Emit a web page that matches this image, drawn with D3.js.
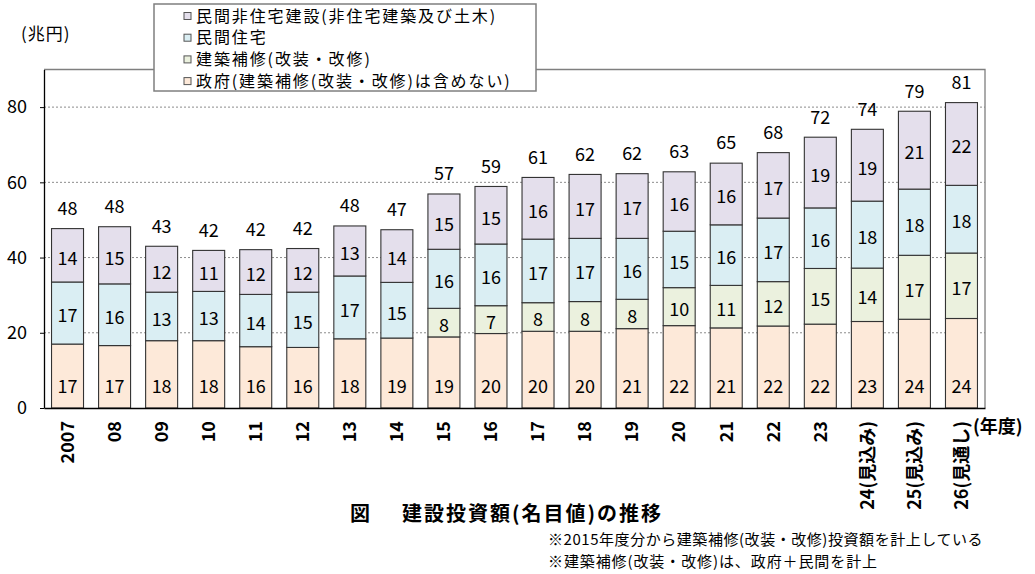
<!DOCTYPE html>
<html><head><meta charset="utf-8">
<script src="https://cdn.jsdelivr.net/npm/d3@7"></script>
<style>
body{margin:0;background:#fff}
text{font-family:"Noto Sans CJK JP","Noto Sans",sans-serif;fill:#000}
</style>
</head><body>
<svg id="c" width="1035" height="574"></svg>
<script>
// ---- data (兆円) ----
const years = ["2007","08","09","10","11","12","13","14","15","16","17","18","19","20","21","22","23","24(見込み)","25(見込み)","26(見通し)"];
const gov     = [17.0,16.6,17.9,17.9,16.3,16.1,18.4,18.6,18.9,19.8,20.4,20.4,21.1,21.9,21.3,21.8,22.3,23.0,23.6,23.8];
const repair  = [null,null,null,null,null,null,null,null,7.6,7.4,7.6,7.9,7.8,10.1,11.3,11.8,14.8,14.2,17.0,17.4];
const housing = [16.5,16.4,12.9,13.1,13.9,14.7,16.7,14.8,15.7,16.4,16.9,16.8,16.2,15.0,16.1,16.9,16.1,17.8,17.6,18.0];
const nonres  = [14.2,15.2,12.2,10.9,11.9,11.6,13.3,14.0,14.7,15.3,16.4,17.0,17.2,15.8,16.4,17.4,18.8,19.1,20.7,22.0];
const yTicks  = [0,20,40,60,80];
const seriesKeys   = ["gov","repair","housing","nonres"];
const seriesNames  = {nonres:"民間非住宅建設(非住宅建築及び土木)",housing:"民間住宅",repair:"建築補修(改装・改修)",gov:"政府(建築補修(改装・改修)は含めない)"};
const seriesColors = {gov:"#FDE9D9",repair:"#EBF1DE",housing:"#DAEEF3",nonres:"#E4DFEC"};
const legendOrder  = ["nonres","housing","repair","gov"];
const titleMark = "図";
const titleText = "建設投資額(名目値)の推移";
const unitLabel = "(兆円)";
const xUnitLabel = "(年度)";
const notes = ["※2015年度分から建築補修(改装・改修)投資額を計上している","※建築補修(改装・改修)は、政府＋民間を計上"];

const rows = years.map((yr,i)=>({year:yr,gov:gov[i],repair:repair[i]||0,housing:housing[i],nonres:nonres[i]}));

const svg = d3.select("#c");
const L=44,R=985,T=69.5,B=408;
const x = d3.scaleBand().domain(years).range([L,R]).paddingInner(0.32).paddingOuter(0.16);
const y = d3.scaleLinear().domain([0,90]).range([B,T]);

// grid
svg.append("g").selectAll("line").data(yTicks.filter(v=>v>0)).join("line")
  .attr("x1",L).attr("x2",R).attr("y1",d=>y(d)).attr("y2",d=>y(d))
  .attr("stroke","#8c8c8c").attr("stroke-width",1).attr("stroke-dasharray","2,2");

// plot border (top/right)
svg.append("path").attr("d",`M${L},${T}H${R}V${B}`).attr("fill","none").attr("stroke","#7f7f7f").attr("stroke-width",1.3);

// bars
const stacked = d3.stack().keys(seriesKeys)(rows);
const bars = svg.append("g");
stacked.forEach(s=>{
  bars.append("g").selectAll("rect").data(s.filter(d=>d[1]-d[0]>0)).join("rect")
    .attr("x",d=>x(d.data.year)).attr("width",x.bandwidth())
    .attr("y",d=>y(d[1])).attr("height",d=>y(d[0])-y(d[1]))
    .attr("fill",seriesColors[s.key]).attr("stroke","#333").attr("stroke-width",1.1);
});

// segment labels
const lbl = svg.append("g").attr("font-size",18).attr("text-anchor","middle");
stacked.forEach(s=>{
  lbl.append("g").selectAll("text").data(s.filter(d=>d[1]-d[0]>0)).join("text")
    .attr("x",d=>x(d.data.year)+x.bandwidth()/2)
    .attr("y",d=> s.key==="gov" ? y(0)-21 : (y(d[0])+y(d[1]))/2+3)
    .attr("dy","0.35em")
    .text(d=>Math.round(d[1]-d[0]));
});
// totals
lbl.append("g").selectAll("text").data(rows).join("text")
  .attr("x",d=>x(d.year)+x.bandwidth()/2)
  .attr("y",d=>y(d.gov+d.repair+d.housing+d.nonres)-20)
  .attr("dy","0.35em")
  .text(d=>Math.round(Math.round((d.gov+d.repair+d.housing+d.nonres)*10)/10));

// y axis
const ya = svg.append("g").attr("transform",`translate(${L},0)`)
  .call(d3.axisLeft(y).tickValues(yTicks).tickSize(4).tickSizeOuter(0).tickPadding(13));
ya.select(".domain").attr("stroke","#000").attr("stroke-width",1.3);
ya.selectAll(".tick line").attr("stroke","#000");
ya.selectAll(".tick text").attr("font-size",18).attr("font-family",null).attr("fill","#000");

// x axis
const xa = svg.append("g").attr("transform",`translate(0,${B})`)
  .call(d3.axisBottom(x).tickSize(0).tickSizeOuter(0));
xa.select(".domain").attr("stroke","#000").attr("stroke-width",1.3);
xa.selectAll(".tick text").attr("font-size",18).attr("font-weight","bold").attr("font-family",null).attr("fill","#000")
  .attr("transform","rotate(-90)").attr("text-anchor","end").attr("x",-13).attr("y",0).attr("dy","0.35em");

// unit labels
svg.append("text").attr("x",21).attr("y",34).attr("dy","0.35em").attr("font-size",17).attr("letter-spacing",1).text(unitLabel);
svg.append("text").attr("x",973).attr("y",427).attr("dy","0.35em").attr("font-size",18).attr("font-weight","bold").text(xUnitLabel);

// legend
const lg = svg.append("g");
lg.append("rect").attr("x",154).attr("y",4).attr("width",382).attr("height",87)
  .attr("fill","#fff").attr("stroke","#7f7f7f").attr("stroke-width",1.5);
legendOrder.forEach((k,i)=>{
  const cy = 16 + i*21.7;
  lg.append("rect").attr("x",184).attr("y",cy-3.5).attr("width",7).attr("height",7)
    .attr("fill",seriesColors[k]).attr("stroke","#555").attr("stroke-width",1);
  lg.append("text").attr("x",196).attr("y",cy).attr("dy","0.35em").attr("font-size",16).attr("letter-spacing",1.9).text(seriesNames[k]);
});

// title
svg.append("text").attr("x",350).attr("y",514).attr("dy","0.35em").attr("font-size",20).attr("font-weight","bold").text(titleMark);
svg.append("text").attr("x",402).attr("y",514).attr("dy","0.35em").attr("font-size",20).attr("font-weight","bold").attr("letter-spacing",2).text(titleText);

// notes
svg.append("g").selectAll("text").data(notes).join("text")
  .attr("x",548).attr("y",(d,i)=>540+i*22).attr("dy","0.35em").attr("font-size",15).attr("letter-spacing",(d,i)=>i===0?0.55:0.9).text(d=>d);
</script>
</body></html>
